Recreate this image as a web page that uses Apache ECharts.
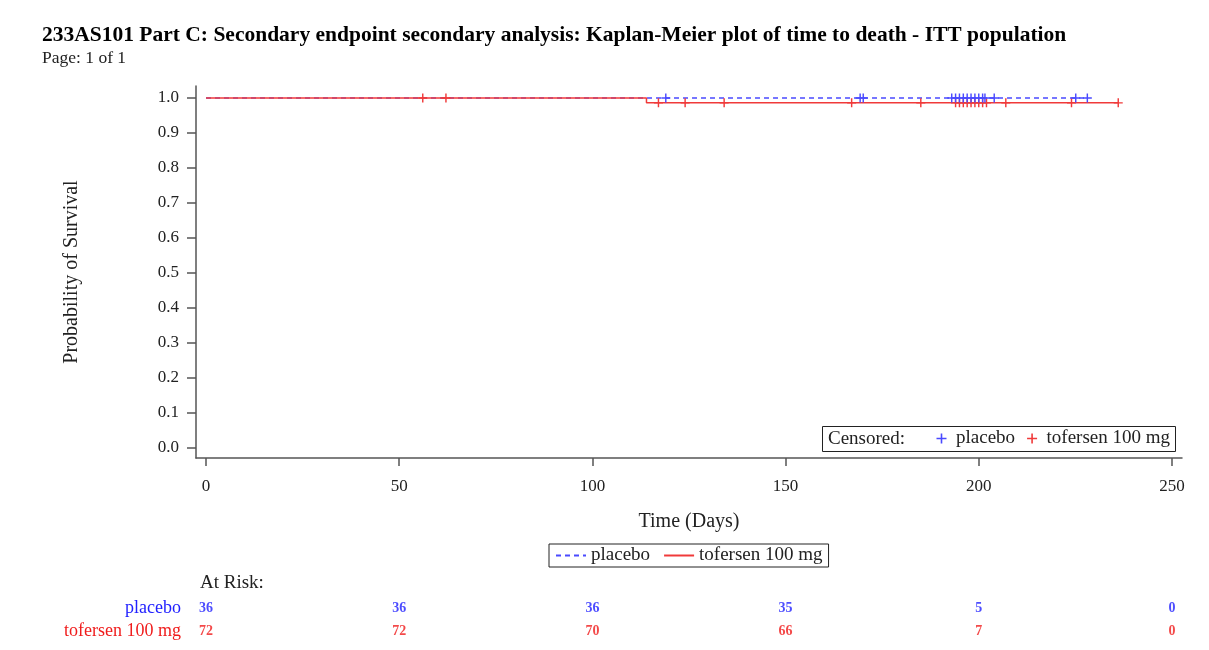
<!DOCTYPE html>
<html>
<head>
<meta charset="utf-8">
<script src="https://cdn.jsdelivr.net/npm/echarts@6/dist/echarts.min.js"></script>
<style>
  html, body { margin: 0; padding: 0; background: #fff; }
  #chart { width: 1209px; height: 650px; }
</style>
</head>
<body>
<div id="chart"></div>
<script>
  // KM step curves (days, survival probability)
  var placeboTimes = [0, 228.1];
  var placeboSurv = [1, 1];
  var tofersenTimes = [0, 114, 114, 236.1];
  var tofersenSurv = [1, 1, 0.9861, 0.9861];

  // censored observations
  var placeboCensorTimes = [119.0, 169.3, 170.1, 193.0, 194.0, 195.0, 196.0, 197.0, 198.0, 199.0, 200.0, 201.0, 201.6, 204.0, 225.1, 228.1];
  var placeboCensorSurv = [1, 1, 1, 1, 1, 1, 1, 1, 1, 1, 1, 1, 1, 1, 1, 1];
  var tofersenCensorTimes = [56.1, 62.1, 117.1, 124.0, 134.1, 167.1, 185.0, 194, 195, 196, 197, 198, 199, 200, 201, 202, 207.0, 224.0, 236.1];
  var tofersenCensorSurv = [1, 1, 0.9861, 0.9861, 0.9861, 0.9861, 0.9861, 0.9861, 0.9861, 0.9861, 0.9861, 0.9861, 0.9861, 0.9861, 0.9861, 0.9861, 0.9861, 0.9861, 0.9861];

  // axis ticks
  var xTicks = [0, 50, 100, 150, 200, 250];
  var yTicks = [0, 0.1, 0.2, 0.3, 0.4, 0.5, 0.6, 0.7, 0.8, 0.9, 1.0];

  // number at risk
  var atRiskTimes = [0, 50, 100, 150, 200, 250];
  var placeboAtRisk = [36, 36, 36, 35, 5, 0];
  var tofersenAtRisk = [72, 72, 70, 66, 7, 0];

  var groups = ['tofersen 100 mg', 'placebo'];

  var blue = '#4a4aff';
  var red = '#f03a3a';
  var blueText = '#2020ff';
  var redText = '#f01c1c';
  var serif = '"Liberation Serif", "DejaVu Serif", serif';
  var plusPath = 'path://M4.2,0h1.6v10h-1.6z M0,4.2h10v1.6h-10z';

  function zip(a, b) {
    return a.map(function (v, i) { return [v, b[i]]; });
  }

  var chart = echarts.init(document.getElementById('chart'));

  var option = {
    animation: false,
    backgroundColor: '#fff',
    textStyle: { fontFamily: serif },
    title: {
      text: '233AS101 Part C: Secondary endpoint secondary analysis: Kaplan-Meier plot of time to death - ITT population',
      subtext: 'Page: 1 of 1',
      left: 37,
      top: 19,
      itemGap: 3,
      padding: 5,
      textStyle: { fontFamily: serif, fontSize: 21.5, fontWeight: 'bold', color: '#000' },
      subtextStyle: { fontFamily: serif, fontSize: 17.5, color: '#222' }
    },
    grid: [
      { left: 196, right: 27, top: 86, bottom: 192 },
      { left: 196, right: 27, top: 597, height: 46 }
    ],
    xAxis: [
      {
        type: 'value',
        gridIndex: 0,
        min: -2.59,
        max: 252.6,
        name: 'Time (Days)',
        nameLocation: 'middle',
        nameGap: 54,
        nameTextStyle: { fontFamily: serif, fontSize: 20, color: '#222' },
        splitLine: { show: false },
        axisLine: { show: true, onZero: false, lineStyle: { color: '#555', width: 1.5 } },
        axisTick: { show: true, length: 8, customValues: xTicks, lineStyle: { color: '#555', width: 1.5 } },
        axisLabel: { customValues: xTicks, margin: 20, fontFamily: serif, fontSize: 17, color: '#222' }
      },
      {
        type: 'value',
        gridIndex: 1,
        min: -2.59,
        max: 252.6,
        show: false
      }
    ],
    yAxis: [
      {
        type: 'value',
        gridIndex: 0,
        min: -0.0286,
        max: 1.0343,
        name: 'Probability of Survival',
        nameLocation: 'middle',
        nameGap: 114,
        nameTextStyle: { fontFamily: serif, fontSize: 20, color: '#222' },
        splitLine: { show: false },
        axisLine: { show: true, onZero: false, lineStyle: { color: '#555', width: 1.5 } },
        axisTick: { show: true, length: 9, customValues: yTicks, lineStyle: { color: '#555', width: 1.5 } },
        axisLabel: {
          customValues: yTicks,
          margin: 17,
          fontFamily: serif,
          fontSize: 17,
          color: '#222',
          formatter: function (v) { return v.toFixed(1); }
        }
      },
      {
        type: 'category',
        gridIndex: 1,
        data: groups,
        axisLine: { show: false },
        axisTick: { show: false },
        axisLabel: {
          interval: 0,
          hideOverlap: false,
          margin: 15,
          fontFamily: serif,
          fontSize: 18,
          formatter: function (v) { return v === 'placebo' ? '{p|' + v + '}' : '{t|' + v + '}'; },
          rich: {
            p: { color: blueText, fontFamily: serif, fontSize: 18 },
            t: { color: redText, fontFamily: serif, fontSize: 18 }
          }
        }
      }
    ],
    legend: [
      {
        data: ['placebo', 'tofersen 100 mg'],
        left: 549,
        top: 544,
        orient: 'horizontal',
        borderColor: '#222',
        borderWidth: 1,
        padding: [2, 6, 2, 6],
        itemGap: 13,
        itemWidth: 30,
        itemHeight: 10,
        itemStyle: { opacity: 0 },
        selectedMode: false,
        textStyle: { fontFamily: serif, fontSize: 19, color: '#222' }
      },
      {
        data: ['cens_placebo', 'cens_tofersen'],
        left: 936.5,
        top: 429,
        orient: 'horizontal',
        padding: 0,
        itemGap: 12,
        itemWidth: 11,
        itemHeight: 10,
        selectedMode: false,
        formatter: function (n) { return n === 'cens_placebo' ? 'placebo' : 'tofersen 100 mg'; },
        textStyle: { fontFamily: serif, fontSize: 19, color: '#222', padding: [0, 0, 0, 4] }
      }
    ],
    graphic: [
      {
        type: 'rect',
        shape: { x: 822.5, y: 426.5, width: 353, height: 25 },
        style: { fill: '#fff', stroke: '#222', lineWidth: 1 },
        z: 1
      },
      {
        type: 'text',
        x: 828,
        y: 439.5,
        style: { text: 'Censored:', fontFamily: serif, fontSize: 19, fill: '#222', verticalAlign: 'middle' },
        z: 6
      },
      {
        type: 'text',
        x: 200,
        y: 583,
        style: { text: 'At Risk:', fontFamily: serif, fontSize: 19, fill: '#222', verticalAlign: 'middle' },
        z: 6
      }
    ],
    series: [
      {
        name: 'placebo',
        type: 'line',
        xAxisIndex: 0,
        yAxisIndex: 0,
        data: zip(placeboTimes, placeboSurv),
        symbol: 'none',
        lineStyle: { color: blue, width: 1.5, type: [5, 4] },
        itemStyle: { color: blue },
        z: 2
      },
      {
        name: 'tofersen 100 mg',
        type: 'line',
        xAxisIndex: 0,
        yAxisIndex: 0,
        data: zip(tofersenTimes, tofersenSurv),
        symbol: 'none',
        lineStyle: { color: red, width: 1.5 },
        itemStyle: { color: red },
        z: 3
      },
      {
        name: 'cens_tofersen',
        type: 'scatter',
        xAxisIndex: 0,
        yAxisIndex: 0,
        data: zip(tofersenCensorTimes, tofersenCensorSurv),
        symbol: plusPath,
        symbolSize: 9,
        itemStyle: { color: red, opacity: 1 },
        z: 4
      },
      {
        name: 'cens_placebo',
        type: 'scatter',
        xAxisIndex: 0,
        yAxisIndex: 0,
        data: zip(placeboCensorTimes, placeboCensorSurv),
        symbol: plusPath,
        symbolSize: 9,
        itemStyle: { color: blue, opacity: 1 },
        z: 5
      },
      {
        name: 'atrisk_placebo',
        type: 'scatter',
        xAxisIndex: 1,
        yAxisIndex: 1,
        symbolSize: 0,
        data: atRiskTimes.map(function (t, i) { return [t, 'placebo', placeboAtRisk[i]]; }),
        label: {
          show: true,
          position: 'inside',
          formatter: function (p) { return String(p.value[2]); },
          fontFamily: serif,
          fontSize: 14,
          fontWeight: 'bold',
          color: blueText
        }
      },
      {
        name: 'atrisk_tofersen',
        type: 'scatter',
        xAxisIndex: 1,
        yAxisIndex: 1,
        symbolSize: 0,
        data: atRiskTimes.map(function (t, i) { return [t, 'tofersen 100 mg', tofersenAtRisk[i]]; }),
        label: {
          show: true,
          position: 'inside',
          formatter: function (p) { return String(p.value[2]); },
          fontFamily: serif,
          fontSize: 14,
          fontWeight: 'bold',
          color: redText
        }
      }
    ]
  };

  chart.setOption(option);
</script>
</body>
</html>
